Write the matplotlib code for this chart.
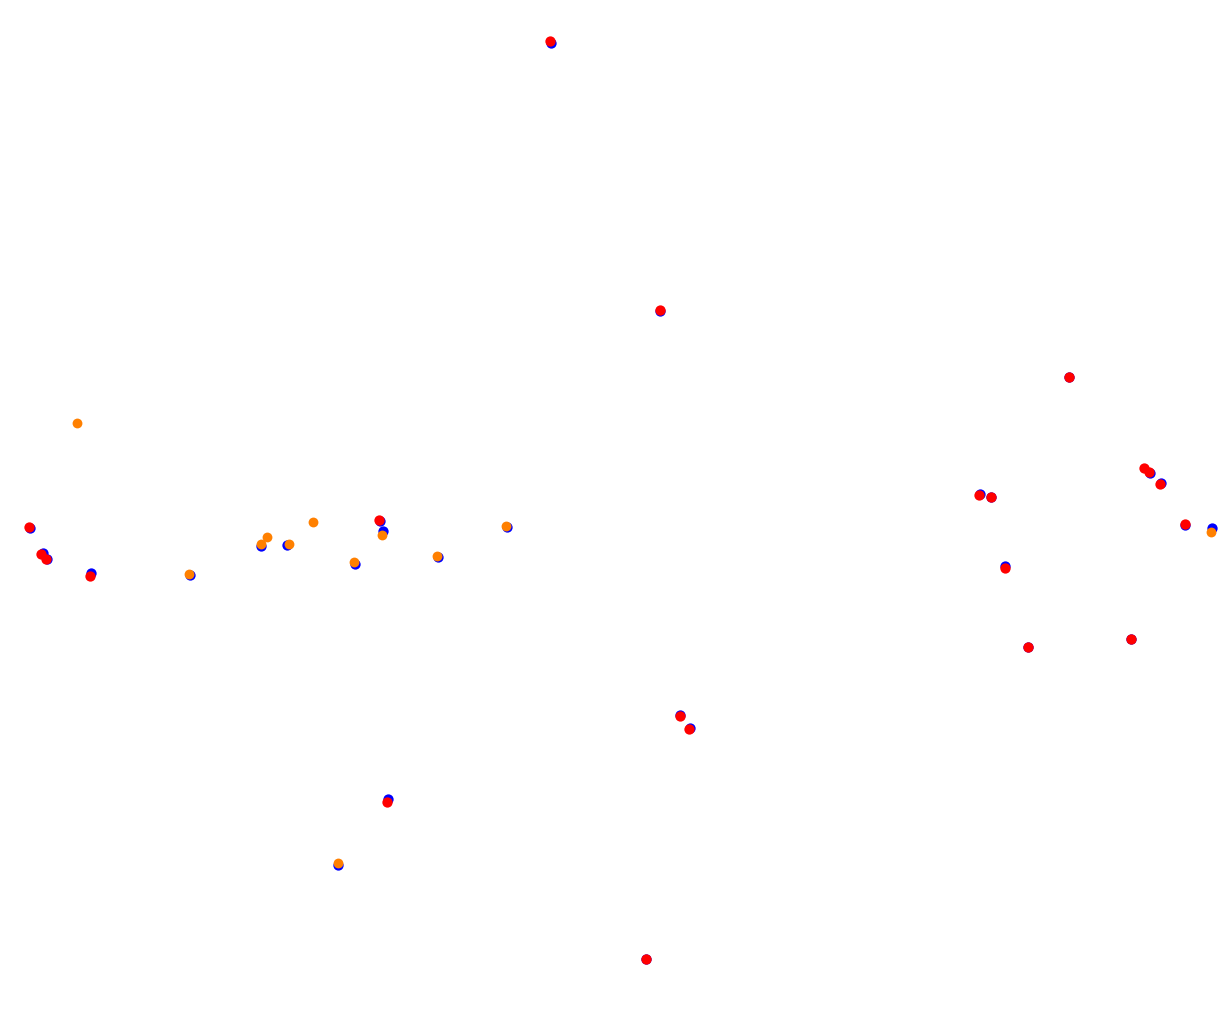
import matplotlib
matplotlib.use("Agg")
import matplotlib.pyplot as plt

# positions (pixel-like units, y downward)
blue_x = [551, 660, 1069, 30, 43, 47, 91, 380, 388, 680, 690, 646, 980, 991, 1150, 1161, 1185, 1005, 1028, 1131,
          190, 261, 287, 355, 383, 438, 507, 338, 1212]
blue_y = [43, 311, 377, 528, 553, 559, 573, 521, 799, 715, 728, 959, 494, 497, 473, 483, 525, 566, 647, 639,
          575, 546, 545, 564, 531, 557, 527, 865, 528]

red_x = [550, 660, 1069, 29, 41, 46, 90, 379, 387, 680, 689, 646, 979, 991, 1144, 1149, 1160, 1185, 1005, 1028, 1131]
red_y = [41, 310, 377, 527, 554, 559, 576, 520, 802, 716, 729, 959, 495, 497, 468, 472, 484, 524, 568, 647, 639]

orange_x = [77, 189, 261, 267, 289, 313, 354, 382, 437, 506, 338, 1211]
orange_y = [423, 574, 544, 537, 544, 522, 562, 535, 556, 526, 863, 532]

fig = plt.figure(figsize=(12.28, 10.16), dpi=100)
ax = fig.add_axes([0, 0, 1, 1])
ax.scatter(blue_x, blue_y, s=55, c="blue", linewidths=0)
ax.scatter(red_x, red_y, s=55, c="red", linewidths=0)
ax.scatter(orange_x, orange_y, s=50, c="#ff8000", linewidths=0)
ax.set_xlim(0, 1228)
ax.set_ylim(1016, 0)
ax.axis("off")
fig.savefig("out.png", dpi=100)
